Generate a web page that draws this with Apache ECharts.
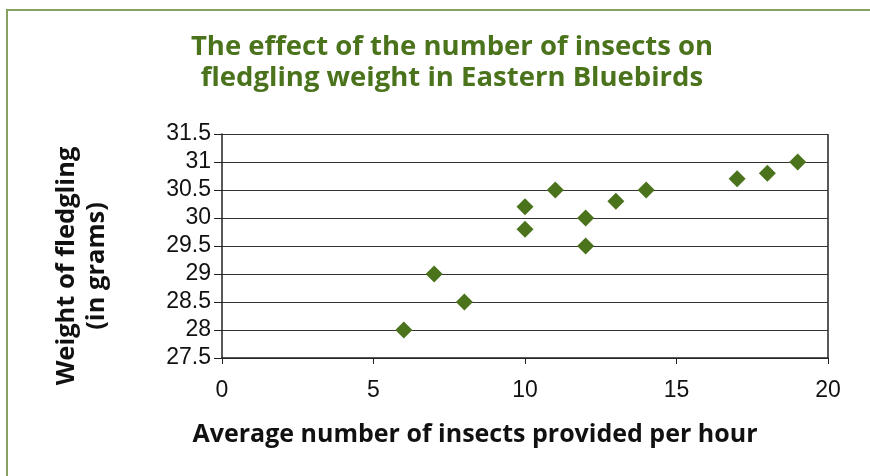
<!DOCTYPE html>
<html>
<head>
<meta charset="utf-8">
<script src="https://cdn.jsdelivr.net/npm/echarts@6/dist/echarts.min.js"></script>
<style>
  html, body { margin: 0; padding: 0; background: #fff; }
</style>
</head>
<body>
<div id="chart" style="width:870px;height:476px"></div>
<script>
// insects per hour vs fledgling weight (g)
var insects = [6, 7, 8, 10, 10, 11, 12, 12, 13, 14, 17, 18, 19];
var weights = [28, 29, 28.5, 30.2, 29.8, 30.5, 30, 29.5, 30.3, 30.5, 30.7, 30.8, 31];
var xTicks = [0, 5, 10, 15, 20];
var yTicks = [27.5, 28, 28.5, 29, 29.5, 30, 30.5, 31, 31.5];

var points = insects.map(function (x, i) { return [x, weights[i]]; });

var green = '#4a731c';
var myChart = echarts.init(document.getElementById('chart'));
var option = {
    backgroundColor: '#fff',
    animation: false,
    title: {
        text: 'The effect of the number of insects on\nfledgling weight in Eastern Bluebirds',
        left: 447,
        top: 27,
        textAlign: 'center',
        textStyle: {
            color: green,
            fontFamily: 'Open Sans',
            fontWeight: 'bold',
            fontSize: 27.5,
            lineHeight: 31
        }
    },
    grid: { left: 222, right: 42, top: 134, bottom: 118 },
    xAxis: {
        type: 'value',
        min: xTicks[0],
        max: xTicks[xTicks.length - 1],
        interval: 5,
        name: 'Average number of insects provided per hour',
        nameLocation: 'middle',
        nameGap: 64,
        nameTextStyle: { color: '#111', fontFamily: 'Open Sans', fontWeight: 'bold', fontSize: 25, padding: [0, 100, 0, 0] },
        axisLine: { onZero: false, lineStyle: { color: '#222', width: 1.5 } },
        axisTick: { show: true, length: 6, lineStyle: { color: '#222' } },
        axisLabel: { color: '#111', fontFamily: 'Liberation Sans', fontSize: 23, margin: 21 },
        splitLine: { show: false }
    },
    yAxis: {
        type: 'value',
        min: yTicks[0],
        max: yTicks[yTicks.length - 1],
        interval: 0.5,
        name: 'Weight of fledgling\n(in grams)',
        nameLocation: 'middle',
        nameRotate: 90,
        nameGap: 110,
        nameTextStyle: { color: '#111', fontFamily: 'Open Sans', fontWeight: 'bold', fontSize: 25.5, lineHeight: 30, padding: [0, 40, 0, 0] },
        axisLine: { show: true, lineStyle: { color: '#222', width: 1.5 } },
        axisTick: { show: true, length: 8, lineStyle: { color: '#222' } },
        axisLabel: { color: '#111', fontFamily: 'Liberation Sans', fontSize: 23, margin: 11 },
        splitLine: { show: true, lineStyle: { color: '#333', width: 1.2 } }
    },
    graphic: [{
        // outer green frame
        type: 'rect',
        shape: { x: 7, y: 10, width: 900, height: 500 },
        style: { fill: 'none', stroke: '#86a25e', lineWidth: 2 },
        silent: true
    }, {
        // right edge of the plot area
        type: 'line',
        shape: { x1: 828, y1: 134, x2: 828, y2: 358 },
        style: { stroke: '#222', lineWidth: 1.5 },
        silent: true
    }],
    series: [{
        type: 'scatter',
        data: points,
        symbol: 'diamond',
        symbolSize: [17, 17],
        itemStyle: { color: green, opacity: 1 }
    }]
};
myChart.setOption(option);
</script>
</body>
</html>
